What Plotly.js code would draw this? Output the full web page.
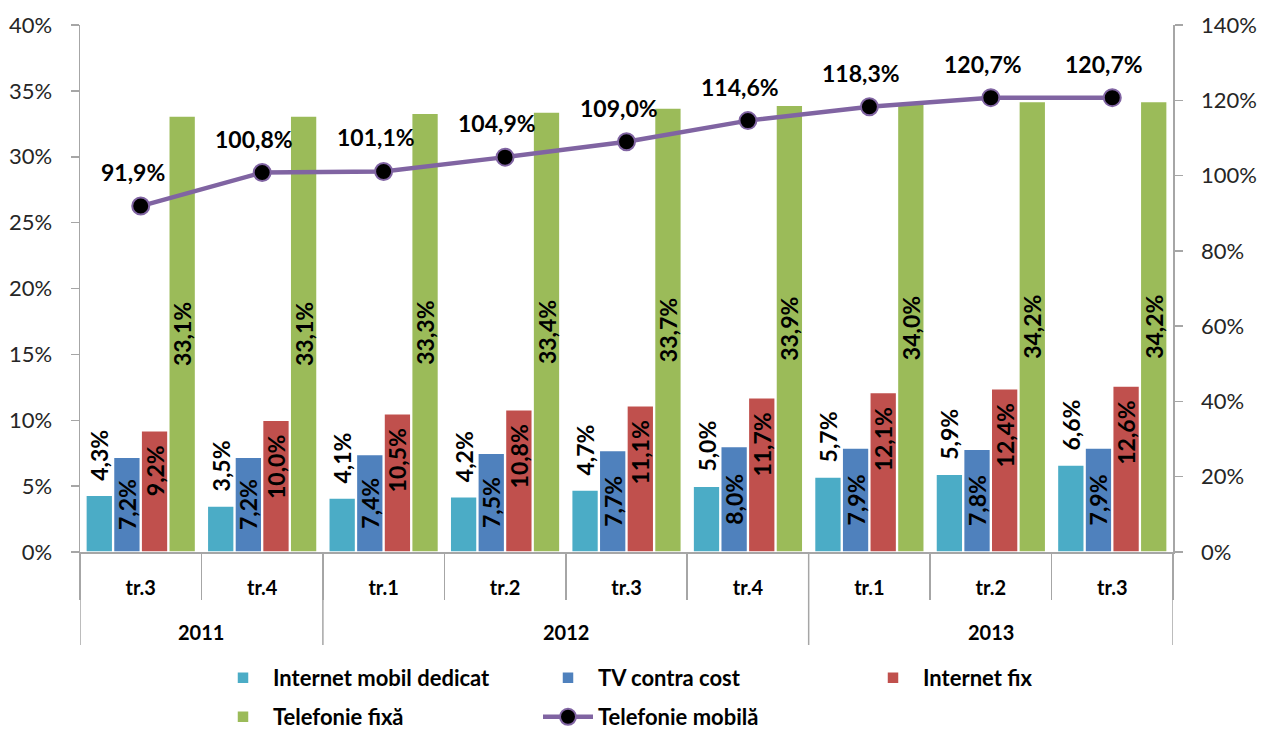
<!DOCTYPE html>
<html>
<head>
<meta charset="utf-8">
<script src="https://cdn.plot.ly/plotly-3.0.1.min.js"></script>
<style>
  html, body { margin: 0; padding: 0; background: #fff; }
  #chart { width: 1261px; height: 731px; }
</style>
</head>
<body>
<div id="chart"></div>
<script>
// ---- data ----
var years = ['2011', '2011', '2012', '2012', '2012', '2012', '2013', '2013', '2013'];
var quarters = ['tr.3', 'tr.4', 'tr.1', 'tr.2', 'tr.3', 'tr.4', 'tr.1', 'tr.2', 'tr.3'];

var internetMobil = [4.3, 3.5, 4.1, 4.2, 4.7, 5.0, 5.7, 5.9, 6.6];
var tvContraCost = [7.2, 7.2, 7.4, 7.5, 7.7, 8.0, 7.9, 7.8, 7.9];
var internetFix = [9.2, 10.0, 10.5, 10.8, 11.1, 11.7, 12.1, 12.4, 12.6];
var telefonieFixa = [33.1, 33.1, 33.3, 33.4, 33.7, 33.9, 34.0, 34.2, 34.2];
var telefonieMobila = [91.9, 100.8, 101.1, 104.9, 109.0, 114.6, 118.3, 120.7, 120.7];

var seriesNames = ['Internet mobil dedicat', 'TV contra cost', 'Internet fix', 'Telefonie fixă', 'Telefonie mobilă'];

// ---- derived positions (category index on the x axis) ----
var idx = quarters.map(function (q, i) { return i; });
var quarterBounds = [];
for (var i = 0; i <= quarters.length; i++) quarterBounds.push(i - 0.5);
var yearBounds = [-0.5];
var yearGroups = [];
var start = 0;
for (var j = 1; j <= years.length; j++) {
  if (j === years.length || years[j] !== years[j - 1]) {
    yearGroups.push({ name: years[start], mid: (start + j - 1) / 2 });
    yearBounds.push(j - 0.5);
    start = j;
  }
}

// ---- styling ----
var FONT = 'Lato, "Open Sans", "Liberation Sans", sans-serif';
var AXIS_GRAY = '#a6a6a6';
var labelFont = { family: FONT, size: 23, color: '#000', weight: 'bold' };
var PLOT_H = 527; // plot-area height in px (for paper-relative offsets below the axis)

function barTrace(name, values, color, pos, anchor, tmpl, legendId) {
  return {
    type: 'bar',
    name: name,
    legend: legendId,
    x: idx,
    y: values,
    yaxis: 'y',
    marker: { color: color, line: { color: '#ffffff', width: 1.5 } },
    texttemplate: tmpl,
    textposition: pos,
    insidetextanchor: anchor,
    textangle: -90,
    textfont: labelFont,
    insidetextfont: labelFont,
    outsidetextfont: labelFont,
    constraintext: 'none',
    cliponaxis: false,
    hoverinfo: 'skip'
  };
}

var traces = [
  barTrace(seriesNames[0], internetMobil, '#4BACC6', 'outside', 'end', '\u2002%{y:.1f}%', 'legend'),
  barTrace(seriesNames[1], tvContraCost, '#4F81BD', 'inside', 'middle', '%{y:.1f}%', 'legend'),
  barTrace(seriesNames[2], internetFix, '#C0504D', 'inside', 'end', '%{y:.1f}%\u2002', 'legend'),
  barTrace(seriesNames[3], telefonieFixa, '#9BBB59', 'inside', 'middle', '%{y:.1f}%', 'legend2'),
  {
    type: 'scatter',
    name: seriesNames[4],
    legend: 'legend2',
    x: idx,
    y: telefonieMobila,
    yaxis: 'y2',
    mode: 'lines+markers',
    line: { color: '#8064A2', width: 4.5 },
    marker: { color: '#000000', size: 17, line: { color: '#8064A2', width: 2 } },
    cliponaxis: false,
    hoverinfo: 'skip'
  }
];

function fmt(v) { return v.toFixed(1).replace('.', ',') + '%'; }

var annotations = [];
// data labels of the line (placed above each point)
telefonieMobila.forEach(function (v, i) {
  annotations.push({
    x: idx[i], y: v, xref: 'x', yref: 'y2',
    text: fmt(v), showarrow: false,
    xshift: -8, yshift: 34,
    font: labelFont
  });
});
// year labels (second level of the category axis)
yearGroups.forEach(function (g) {
  annotations.push({
    x: g.mid, y: -(632 - 552) / PLOT_H, xref: 'x', yref: 'paper',
    text: g.name, showarrow: false, yanchor: 'middle',
    font: { family: FONT, size: 20, color: '#000', weight: 'bold' }
  });
});

var shapes = yearBounds.map(function (b) {
  return {
    type: 'line', xref: 'x', yref: 'paper',
    x0: b, x1: b, y0: 0, y1: -(645 - 552) / PLOT_H,
    line: { color: AXIS_GRAY, width: 1.5 }
  };
});

var legendBase = {
  orientation: 'h',
  xref: 'container',
  yref: 'container',
  x: 213 / 1261,
  xanchor: 'left',
  yanchor: 'middle',
  entrywidth: 260,
  entrywidthmode: 'pixels',
  itemwidth: 50,
  traceorder: 'normal',
  font: { family: FONT, size: 22, color: '#000', weight: 'bold' },
  bgcolor: 'rgba(0,0,0,0)'
};

var layout = {
  width: 1261,
  height: 731,
  margin: { l: 80, r: 88, t: 25, b: 179 },
  paper_bgcolor: '#ffffff',
  plot_bgcolor: '#ffffff',
  separators: ',.',
  barmode: 'group',
  bargap: 0.09,
  bargroupgap: 0.03,
  showlegend: true,
  font: { family: FONT, color: '#000' },
  xaxis: {
    range: [-0.5, quarters.length - 0.5],
    tickmode: 'array',
    tickvals: idx,
    ticktext: quarters,
    ticks: '',
    showline: true,
    linecolor: AXIS_GRAY,
    linewidth: 1.5,
    showgrid: false,
    zeroline: false,
    ticklabelstandoff: 17,
    tickfont: { family: FONT, size: 20, color: '#000', weight: 'bold' },
    minor: {
      tickmode: 'array',
      tickvals: quarterBounds,
      ticks: 'outside',
      ticklen: 46,
      tickwidth: 1.5,
      tickcolor: AXIS_GRAY,
      showgrid: false
    }
  },
  yaxis: {
    range: [0, 40],
    dtick: 5,
    ticksuffix: '%',
    ticks: 'outside',
    ticklen: 8,
    tickwidth: 1.5,
    tickcolor: AXIS_GRAY,
    showline: true,
    linecolor: AXIS_GRAY,
    linewidth: 1.5,
    showgrid: false,
    zeroline: false,
    ticklabelstandoff: 14,
    tickfont: { family: FONT, size: 22, color: '#262626' }
  },
  yaxis2: {
    overlaying: 'y',
    side: 'right',
    range: [0, 140],
    dtick: 20,
    ticksuffix: '%',
    ticks: 'outside',
    ticklen: 8,
    tickwidth: 1.5,
    tickcolor: AXIS_GRAY,
    showline: true,
    linecolor: AXIS_GRAY,
    linewidth: 1.5,
    showgrid: false,
    zeroline: false,
    ticklabelstandoff: 14,
    tickfont: { family: FONT, size: 22, color: '#262626' }
  },
  annotations: annotations,
  shapes: shapes,
  legend: Object.assign({}, legendBase, { y: 1 - 678 / 731 }),
  legend2: Object.assign({}, legendBase, { y: 1 - 717 / 731 })
};

Plotly.newPlot('chart', traces, layout, { displayModeBar: false, staticPlot: true });
</script>
</body>
</html>
